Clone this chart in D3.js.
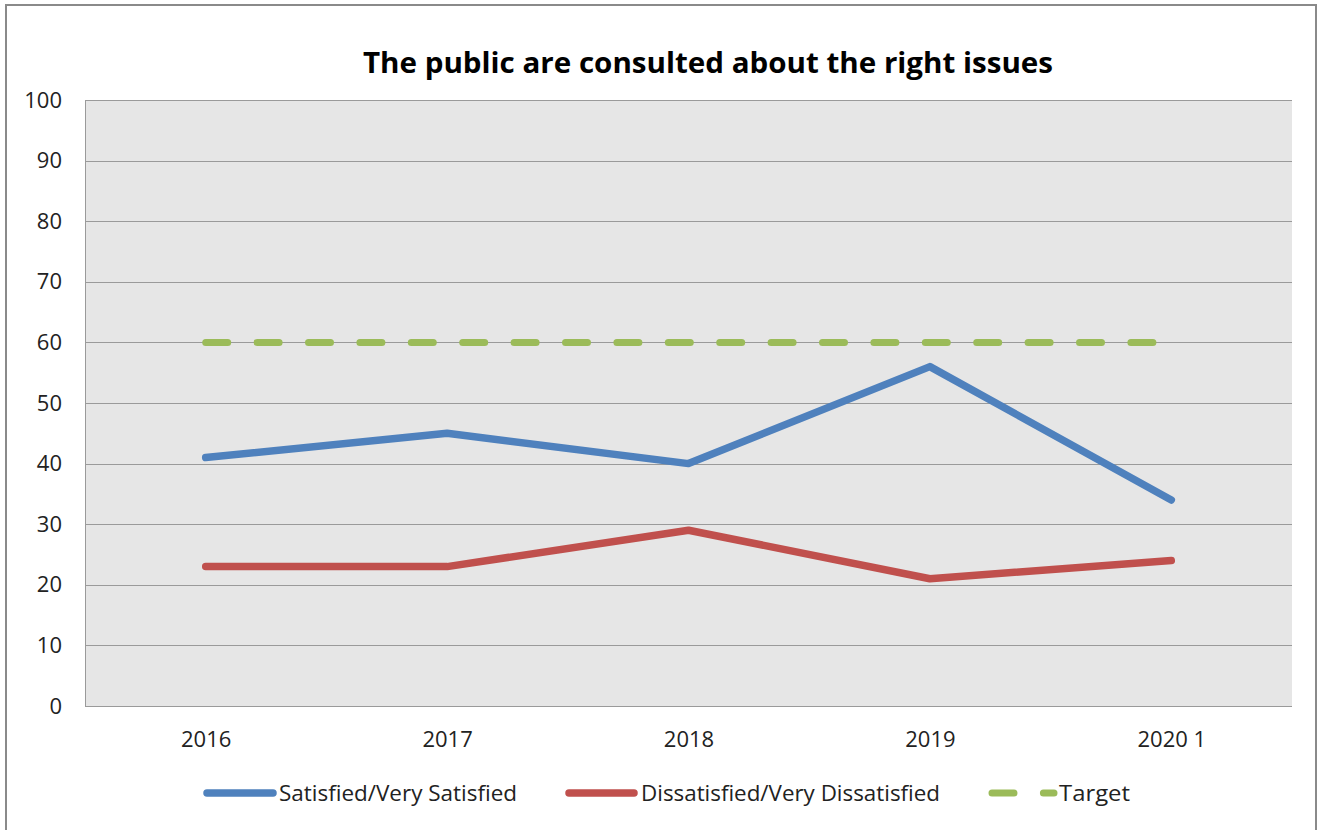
<!DOCTYPE html>
<html>
<head>
<meta charset="utf-8">
<script src="https://cdn.jsdelivr.net/npm/d3@7"></script>
<style>
  html, body { margin: 0; padding: 0; background: #fff; }
  svg { display: block; }
  text { font-family: "Open Sans", "Noto Sans", sans-serif; }
</style>
</head>
<body>
<svg id="chart" width="1326" height="830"></svg>
<script>
const categories = ["2016", "2017", "2018", "2019", "2020 1"];
const satisfied = [41, 45, 40, 56, 34];
const dissatisfied = [23, 23, 29, 21, 24];
const target = [60, 60, 60, 60, 60];
const yTicks = [0, 10, 20, 30, 40, 50, 60, 70, 80, 90, 100];
const seriesNames = ["Satisfied/Very Satisfied", "Dissatisfied/Very Dissatisfied", "Target"];
const titleText = "The public are consulted about the right issues";

const svg = d3.select("#chart");
const plot = { left: 85, top: 100, right: 1292, bottom: 706 };

// outer frame
svg.append("rect").attr("x", 6).attr("y", 5).attr("width", 1310).attr("height", 840)
  .attr("fill", "#fff").attr("stroke", "#8a8a8a").attr("stroke-width", 2);

const x = d3.scalePoint().domain(categories).range([plot.left, plot.right]).padding(0.5);
const y = d3.scaleLinear().domain([0, 100]).range([plot.bottom, plot.top]);

// plot background
svg.append("rect").attr("x", plot.left).attr("y", plot.top)
  .attr("width", plot.right - plot.left).attr("height", plot.bottom - plot.top)
  .attr("fill", "#e6e6e6");

// gridlines
svg.append("g").selectAll("line").data(yTicks).join("line")
  .attr("x1", plot.left).attr("x2", plot.right)
  .attr("y1", d => Math.round(y(d)) + 0.5).attr("y2", d => Math.round(y(d)) + 0.5)
  .attr("stroke", "#9a9a9a").attr("stroke-width", 1);

// left axis line
svg.append("line").attr("x1", plot.left + 0.5).attr("x2", plot.left + 0.5)
  .attr("y1", plot.top).attr("y2", plot.bottom + 1)
  .attr("stroke", "#9a9a9a").attr("stroke-width", 1);

// y axis labels
const yAxis = d3.axisLeft(y).tickValues(yTicks).tickSize(0).tickPadding(23);
const gy = svg.append("g").attr("transform", `translate(${plot.left},0)`).call(yAxis);
gy.select(".domain").remove();
gy.selectAll("text").attr("font-size", 22).attr("fill", "#222")
  .style("font-family", "'Open Sans', sans-serif");

// x axis labels
const xAxis = d3.axisBottom(x).tickSize(0).tickPadding(25);
const gx = svg.append("g").attr("transform", `translate(0,${plot.bottom})`).call(xAxis);
gx.select(".domain").remove();
gx.selectAll("text").attr("font-size", 22).attr("fill", "#222")
  .style("font-family", "'Open Sans', sans-serif");

const line = d3.line().x((d, i) => x(categories[i])).y(d => y(d));

// target
svg.append("path").datum(target).attr("d", line)
  .attr("fill", "none").attr("stroke", "#9bbb59").attr("stroke-width", 7)
  .attr("stroke-linecap", "round").attr("stroke-dasharray", "22,29.4");

svg.append("path").datum(dissatisfied).attr("d", line)
  .attr("fill", "none").attr("stroke", "#c0504d").attr("stroke-width", 7.5)
  .attr("stroke-linecap", "round").attr("stroke-linejoin", "round");

svg.append("path").datum(satisfied).attr("d", line)
  .attr("fill", "none").attr("stroke", "#4f81bd").attr("stroke-width", 7.5)
  .attr("stroke-linecap", "round").attr("stroke-linejoin", "round");

// title
svg.append("text").attr("x", 708).attr("y", 73).attr("text-anchor", "middle")
  .attr("font-size", 28).attr("font-weight", "bold").attr("fill", "#000")
  .attr("textLength", 690).attr("lengthAdjust", "spacingAndGlyphs")
  .text(titleText);

// legend
const ly = 793;
const legend = svg.append("g");
legend.append("line").attr("x1", 207).attr("x2", 273).attr("y1", ly).attr("y2", ly)
  .attr("stroke", "#4f81bd").attr("stroke-width", 7.5).attr("stroke-linecap", "round");
legend.append("text").attr("x", 279).attr("y", ly + 8).attr("font-size", 22).attr("fill", "#222")
  .attr("textLength", 238).attr("lengthAdjust", "spacingAndGlyphs").text(seriesNames[0]);
legend.append("line").attr("x1", 569).attr("x2", 634).attr("y1", ly).attr("y2", ly)
  .attr("stroke", "#c0504d").attr("stroke-width", 7.5).attr("stroke-linecap", "round");
legend.append("text").attr("x", 641).attr("y", ly + 8).attr("font-size", 22).attr("fill", "#222")
  .attr("textLength", 299).attr("lengthAdjust", "spacingAndGlyphs").text(seriesNames[1]);
legend.append("line").attr("x1", 992).attr("x2", 1054).attr("y1", ly).attr("y2", ly)
  .attr("stroke", "#9bbb59").attr("stroke-width", 7).attr("stroke-linecap", "round")
  .attr("stroke-dasharray", "22,29.4");
legend.append("text").attr("x", 1059).attr("y", ly + 8).attr("font-size", 22).attr("fill", "#222")
  .attr("textLength", 71).attr("lengthAdjust", "spacingAndGlyphs").text(seriesNames[2]);
</script>
</body>
</html>
